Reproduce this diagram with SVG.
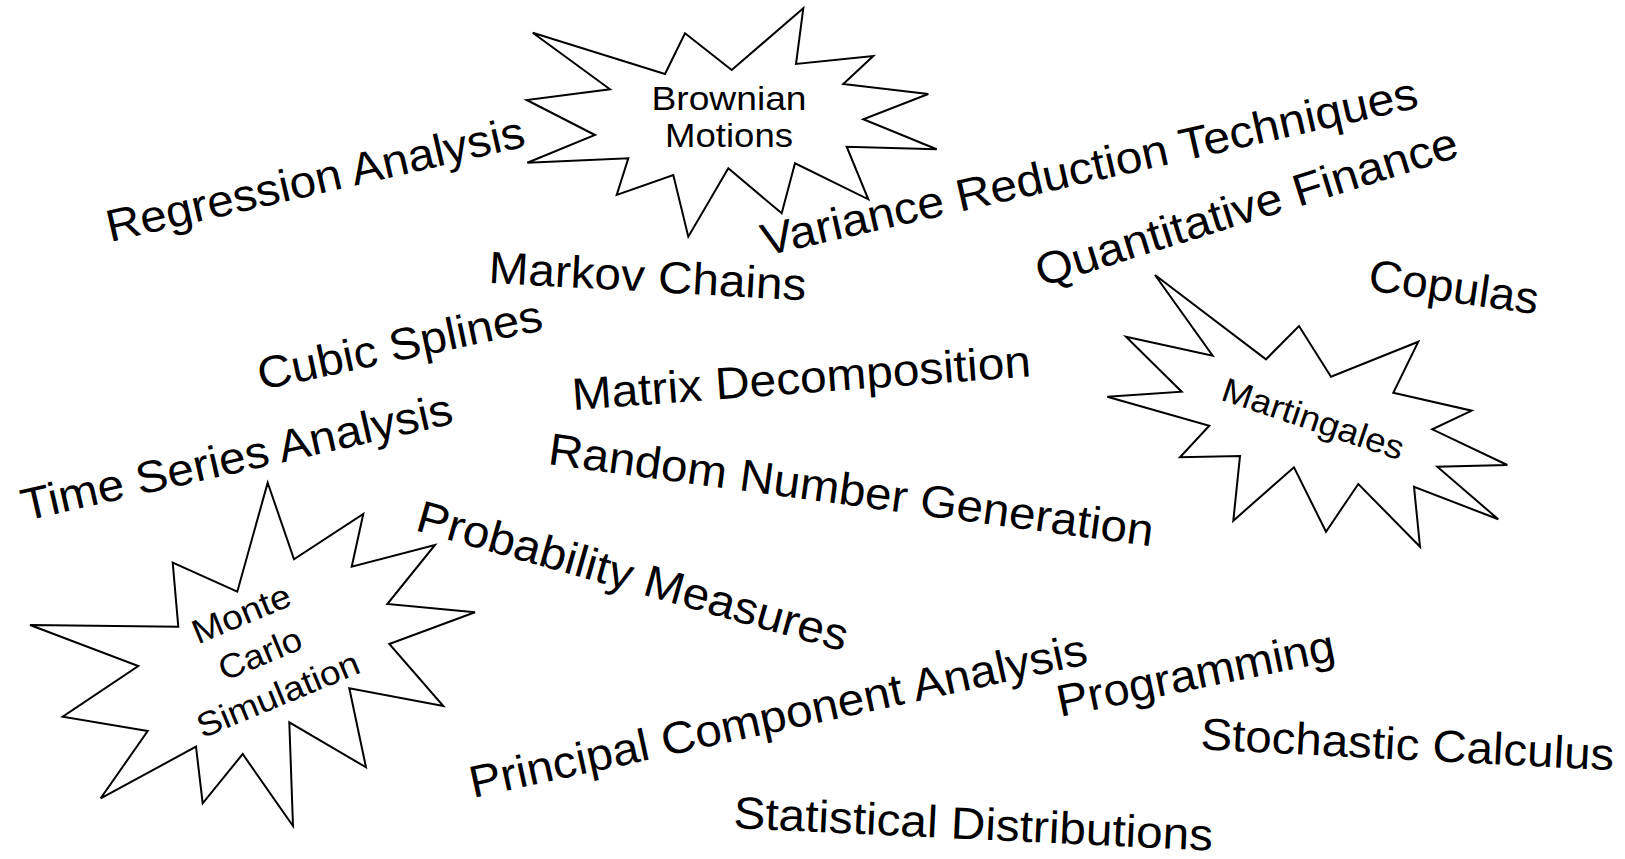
<svg xmlns="http://www.w3.org/2000/svg" width="1625" height="859" viewBox="0 0 1625 859">
<style>
.burst{fill:#fff;stroke:#000;stroke-width:2;stroke-linejoin:miter}
.big{font-family:"Liberation Sans",Arial,sans-serif;font-size:45px;fill:#000}
.lbl{font-family:"Liberation Sans",Arial,sans-serif;font-size:34px;fill:#000}
</style>
<rect width="1625" height="859" fill="#fff"/>
<g id="connectors"></g>
<g id="brownian">
<polygon class="burst" points="532.7,32.7 665,74 685,33.3 731.7,70 803.3,8.3 796,64 873.3,56 843.3,84 928.3,94 863.3,119.3 936.7,149.3 846.7,146.7 868.3,199.3 795,163.3 781.7,213.3 728.3,168.3 688.3,236.7 673.3,175 616.7,195 628.3,158.3 527.3,162.7 595,135 526.7,100 610,89.3"/>
<text class="lbl" x="729" y="110" text-anchor="middle" textLength="155" lengthAdjust="spacingAndGlyphs">Brownian</text>
<text class="lbl" x="729" y="146.7" text-anchor="middle" textLength="128" lengthAdjust="spacingAndGlyphs">Motions</text>
</g>
<g id="martingales">
<polygon class="burst" points="1155,275 1266,359.3 1299,326 1331,376.7 1418.3,341.7 1393.3,392.7 1471.7,410.7 1432.3,429.3 1507.3,465 1437.3,466.7 1498.3,519.3 1414,486.7 1420,546.7 1358.3,484 1326,531.7 1294,467.3 1233.3,520.7 1240,456 1180,457.3 1209.3,425.7 1107.3,396.7 1181.7,391.7 1126,336.7 1212.7,355.7"/>
<text class="lbl" x="1309.5" y="430" text-anchor="middle" transform="rotate(18.7 1309.5 430)" textLength="190" lengthAdjust="spacingAndGlyphs">Martingales</text>
</g>
<g id="montecarlo">
<polygon class="burst" points="267.7,482.7 294,559.3 363.3,514 351.7,566.7 435,545 387.3,604 475,612.3 389.3,644 443.3,706 349.3,688.3 366,767.3 289.3,722.3 293,826 242.7,754 202.7,803.3 196,746.7 100.7,798.3 147.7,731 62.7,716.7 138.3,666 30,625 178.3,626.7 172.7,562.7 237.3,591.7"/>
<text class="lbl" x="245.8" y="624.5" text-anchor="middle" transform="rotate(-22.5 245.8 624.5)" textLength="104" lengthAdjust="spacingAndGlyphs">Monte</text>
<text class="lbl" x="264.5" y="664.7" text-anchor="middle" transform="rotate(-22.5 264.5 664.7)" textLength="87" lengthAdjust="spacingAndGlyphs">Carlo</text>
<text class="lbl" x="282.5" y="705.3" text-anchor="middle" transform="rotate(-22.5 282.5 705.3)" textLength="173" lengthAdjust="spacingAndGlyphs">Simulation</text>
</g>
<g id="regression"><text class="big" x="110" y="242" transform="rotate(-12.95 110 242)" textLength="428" lengthAdjust="spacingAndGlyphs">Regression Analysis</text></g>
<g id="variance"><text class="big" x="765" y="256" transform="rotate(-12.8 765 256)" textLength="672" lengthAdjust="spacingAndGlyphs">Variance Reduction Techniques</text></g>
<g id="quantfinance"><text class="big" x="1041" y="287" transform="rotate(-17.3 1041 287)" textLength="440" lengthAdjust="spacingAndGlyphs">Quantitative Finance</text></g>
<g id="copulas"><text class="big" x="1367" y="290" transform="rotate(8.2 1367 290)" textLength="171" lengthAdjust="spacingAndGlyphs">Copulas</text></g>
<g id="markov"><text class="big" x="488" y="282.7" transform="rotate(3.2 488 282.7)" textLength="318" lengthAdjust="spacingAndGlyphs">Markov Chains</text></g>
<g id="matrix"><text class="big" x="573" y="410" transform="rotate(-4.2 573 410)" textLength="460" lengthAdjust="spacingAndGlyphs">Matrix Decomposition</text></g>
<g id="cubic"><text class="big" x="261" y="390" transform="rotate(-12 261 390)" textLength="290" lengthAdjust="spacingAndGlyphs">Cubic Splines</text></g>
<g id="timeseries"><text class="big" x="25" y="521" transform="rotate(-12.8 25 521)" textLength="441" lengthAdjust="spacingAndGlyphs">Time Series Analysis</text></g>
<g id="random"><text class="big" x="547" y="464" transform="rotate(7.76 547 464)" textLength="610" lengthAdjust="spacingAndGlyphs">Random Number Generation</text></g>
<g id="probability"><text class="big" x="414" y="530" transform="rotate(15.8 414 530)" textLength="446" lengthAdjust="spacingAndGlyphs">Probability Measures</text></g>
<g id="pca"><text class="big" x="473" y="798" transform="rotate(-12.3 473 798)" textLength="631" lengthAdjust="spacingAndGlyphs">Principal Component Analysis</text></g>
<g id="programming"><text class="big" x="1060" y="717" transform="rotate(-11.6 1060 717)" textLength="283" lengthAdjust="spacingAndGlyphs">Programming</text></g>
<g id="stochastic"><text class="big" x="1200" y="749.3" transform="rotate(2.9 1200 749.3)" textLength="414" lengthAdjust="spacingAndGlyphs">Stochastic Calculus</text></g>
<g id="statistical"><text class="big" x="733" y="828" transform="rotate(2.7 733 828)" textLength="480" lengthAdjust="spacingAndGlyphs">Statistical Distributions</text></g>
</svg>
